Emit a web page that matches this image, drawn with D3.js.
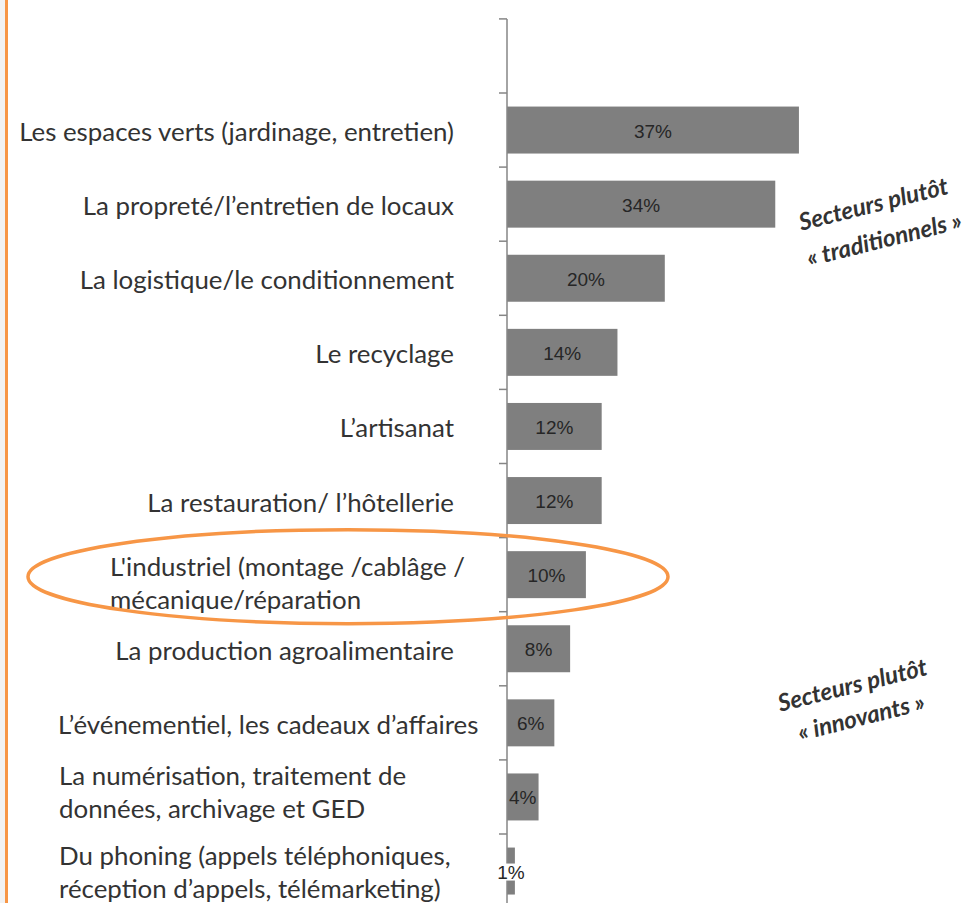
<!DOCTYPE html>
<html><head><meta charset="utf-8">
<script src="https://cdn.jsdelivr.net/npm/d3@7"></script>
<style>html,body{margin:0;padding:0;background:#fff;overflow:hidden}</style>
</head><body><svg id="c" width="977" height="903"></svg>
<script>
const categories = [
  "Les espaces verts (jardinage, entretien)",
  "La propreté/l’entretien de locaux",
  "La logistique/le conditionnement",
  "Le recyclage",
  "L’artisanat",
  "La restauration/ l’hôtellerie",
  "L'industriel (montage /cablâge /\nmécanique/réparation",
  "La production agroalimentaire",
  "L’événementiel, les cadeaux d’affaires",
  "La numérisation, traitement de\ndonnées, archivage et GED",
  "Du phoning (appels téléphoniques,\nréception d’appels, télémarketing)"
];
const values = [37, 34, 20, 14, 12, 12, 10, 8, 6, 4, 1];
const valueLabels = ["37%","34%","20%","14%","12%","12%","10%","8%","6%","4%","1%"];
const annotations = [
  ["Secteurs plutôt", "« traditionnels »"],
  ["Secteurs plutôt", "« innovants »"]
];
const highlighted = "L'industriel (montage /cablâge /\nmécanique/réparation";

const W = 977, H = 903;
const svg = d3.select("#c");
const step = 74.1, top0 = 93, axisX = 507;
const y = d3.scaleBand().domain(categories)
  .range([top0, top0 + step * categories.length])
  .paddingInner(0.366).paddingOuter(0.183);
const x = d3.scaleLinear().domain([0, 40]).range([axisX, axisX + 40 * 7.89]);

// left border
svg.append("rect").attr("x",0).attr("y",0).attr("width",5).attr("height",H).attr("fill","#f2f2f2");
svg.append("rect").attr("x",5).attr("y",0).attr("width",3).attr("height",H).attr("fill","#f79646");

// bars
svg.selectAll("rect.bar").data(categories).join("rect").attr("class","bar")
  .attr("x", x(0)).attr("y", d => y(d))
  .attr("width", (d,i) => x(values[i]) - x(0))
  .attr("height", y.bandwidth())
  .attr("fill", "#7f7f7f");

// axis line + ticks at band boundaries
const axisTop = top0 - step;
svg.append("line").attr("x1",axisX).attr("x2",axisX).attr("y1",axisTop).attr("y2",H+5)
  .attr("stroke","#868686").attr("stroke-width",1.5);
const tickYs = d3.range(-1, categories.length + 1).map(i => top0 + i * step);
svg.selectAll("line.tick").data(tickYs).join("line").attr("class","tick")
  .attr("x1", axisX - 8).attr("x2", axisX).attr("y1", d => d).attr("y2", d => d)
  .attr("stroke","#868686").attr("stroke-width",1.5);

// category labels
const fontFam = "Lato, 'Open Sans', sans-serif";
const probe = svg.append("text").attr("font-family", fontFam).attr("font-size", 20).text(categories[0]);
const w20 = probe.node().getComputedTextLength();
probe.remove();
const fs = 20 * 435 / w20;
const labelRight = 454;
const leftOverride = {6: 110, 8: 58, 9: 59, 10: 59};
const vShift = {6: 7, 9: -6, 10: -1};
const lineH = 33;
categories.forEach((c, i) => {
  const lines = c.split("\n");
  const cy = y(c) + y.bandwidth() / 2 + (vShift[i] || 0);
  const t = svg.append("text").attr("font-family", fontFam).attr("font-size", fs)
    .attr("fill", "#333").attr("dominant-baseline", "central");
  const left = leftOverride[i];
  lines.forEach((ln, k) => {
    t.append("tspan")
      .attr("x", left !== undefined ? left : labelRight)
      .attr("y", cy + (k - (lines.length - 1) / 2) * lineH + 1)
      .attr("text-anchor", left !== undefined ? "start" : "end")
      .text(ln);
  });
});

// value labels
categories.forEach((c, i) => {
  const cx = (x(0) + x(values[i])) / 2, cy = y(c) + y.bandwidth() / 2;
  const g = svg.append("g");
  const t = g.append("text").attr("x", cx).attr("y", cy + 1)
    .attr("text-anchor","middle").attr("dominant-baseline","central")
    .attr("font-family","'Liberation Sans Narrow', Arial, sans-serif").attr("font-size", 19)
    .attr("fill","#262626").text(valueLabels[i]);
  const bb = t.node().getBBox();
  if (bb.width > x(values[i]) - x(0)) {
    g.insert("rect","text").attr("x", bb.x - 2).attr("y", bb.y + 2).attr("width", bb.width + 4)
      .attr("height", bb.height - 4).attr("fill","#fff");
  }
});

// highlight ellipse
svg.append("ellipse").attr("cx", 348).attr("cy", y(highlighted) + y.bandwidth()/2 + 2)
  .attr("rx", 320).attr("ry", 47).attr("fill","none").attr("stroke","#f79646").attr("stroke-width",3.5);

// annotations (one centre per line)
const annPos = [[[873, 203], [884, 238]], [[852, 684], [861, 716]]];
annotations.forEach((lines, i) => {
  lines.forEach((ln, k) => {
    const p = annPos[i][k];
    svg.append("text").attr("transform", `translate(${p[0]},${p[1]}) rotate(-14)`)
      .attr("text-anchor","middle").attr("dominant-baseline","central")
      .attr("font-family", fontFam).attr("font-weight","bold").attr("font-style","italic")
      .attr("font-size", 24).attr("fill","#333").text(ln);
  });
});
</script></body></html>
